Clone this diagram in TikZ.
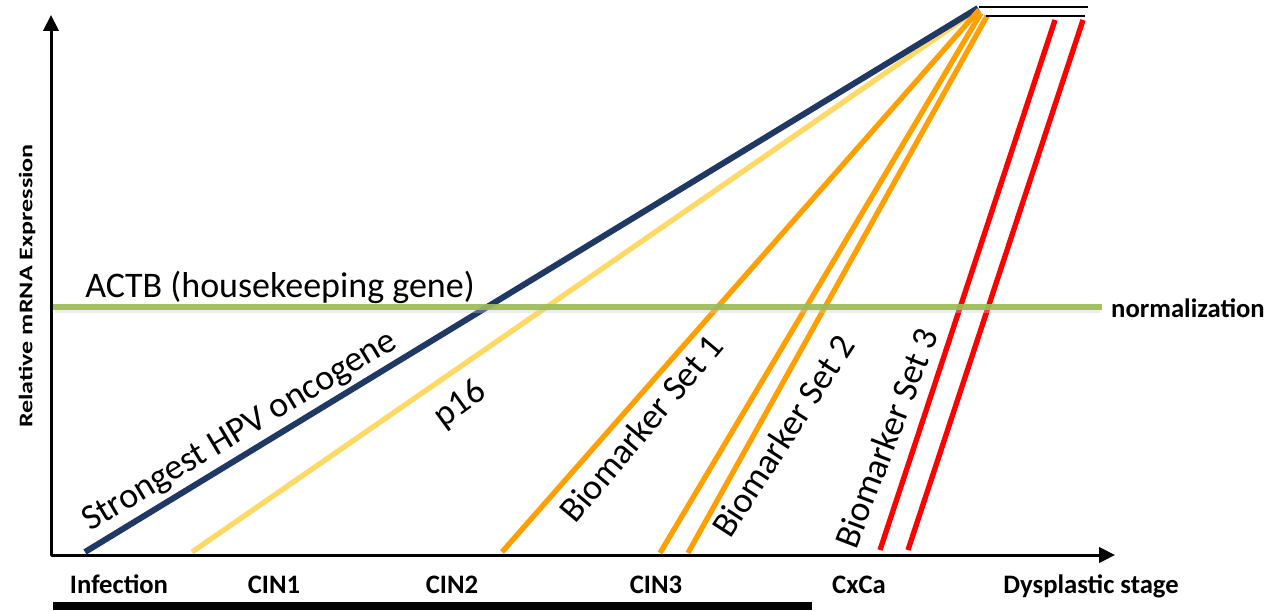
\documentclass[tikz,border=0pt]{standalone}
\usepackage{fontspec}
\setmainfont{Carlito}
\usetikzlibrary{arrows.meta,positioning}
\definecolor{oncoblue}{HTML}{1F3864}
\definecolor{pyellow}{HTML}{FFD966}
\definecolor{setorange}{HTML}{FFA000}
\definecolor{setred}{HTML}{FF0000}
\definecolor{actbgreen}{HTML}{9BBB59}
\newcommand{\axtip}{Triangle[length=12pt,width=11.5pt]}

\begin{document}
\begin{tikzpicture}[x=0.75pt,y=-0.75pt,
  axisline/.style={line width=2.25pt, line join=round},
  trend/.style={line width=4pt},
  stagelab/.style={font=\fontsize{20}{24}\selectfont\bfseries, anchor=base},
  curvelab/.style={font=\fontsize{27}{31}\selectfont, inner sep=0pt}]
\useasboundingbox (0,0) rectangle (1269,610);

% axes
\draw[axisline, {\axtip}-{\axtip}] (51,15) -- (51,555) -- (1115,555);
\fill (53,602) rectangle (812,610);
\node[font=\fontsize{14.5}{16}\selectfont\bfseries, rotate=90] (ylabel) at (27,286)
  {\scalebox{1.35}[1]{Relative mRNA Expression}};

\foreach \x/\lab/\nm in {
  119/Infection/inf,
  274/CIN1/cina,
  452/CIN2/cinb,
  656/CIN3/cinc,
  859/CxCa/cxca,
  1091/Dysplastic stage/dys
}{
  \node[stagelab] (st-\nm) at (\x,593) {\lab};
}

% expression trends
\draw[trend, pyellow] (192,552) -- (978,9);
\draw[trend, oncoblue, line width=4.5pt] (85,552) -- (978,8);
\draw[trend, setorange] (502,552) -- (979,10);
\draw[trend, setorange] (660,553) -- (981,13);
\draw[trend, setorange] (688,553) -- (987,16);
\draw[trend, setred] (880,550) -- (1055,20);
\draw[trend, setred] (908,550) -- (1083,20);

\draw[line width=1.5pt] (979,7) -- (1088,7);
\draw[line width=1.5pt] (986,16) -- (1085,16);

% housekeeping reference
\draw[line width=3pt, black!20, opacity=.35] (55,311) -- (1100,311);
\draw[line width=4.5pt, actbgreen, opacity=.92] (53,307) -- (1102,307);

\node[curvelab, anchor=base west] (actb) at (85,297) {ACTB (housekeeping gene)};
\node[font=\fontsize{20}{24}\selectfont\bfseries, inner sep=0pt, anchor=base east] (norm) at (1265,317) {normalization};

\node[curvelab, rotate=31] (hpv) at (240,432) {Strongest HPV oncogene};
\node[curvelab, rotate=36] (p16) at (460,405) {p16};
\node[curvelab, rotate=50] (bm1) at (641,428) {Biomarker Set 1};
\node[curvelab, rotate=57] (bm2) at (783,436) {Biomarker Set 2};
\node[curvelab, rotate=69] (bm3) at (886,438) {Biomarker Set 3};
\end{tikzpicture}
\end{document}
